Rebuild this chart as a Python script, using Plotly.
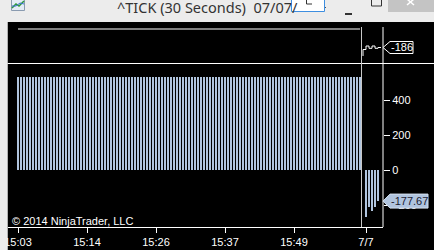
import plotly.graph_objects as go

# ---------------- data ----------------
# bar slots (30-second bars, index along the time axis)
main_slots = list(range(0, 115))
main_values = [
    531, 531, 531, 531, 531, 531, 531, 531, 531, 531, 531, 531, 531, 531, 531, 531, 531, 531, 531, 531, 531, 531, 531,
    531, 531, 531, 531, 531, 531, 531, 531, 531, 531, 531, 531, 531, 531, 531, 531, 531, 531, 531, 531, 531, 531, 531,
    531, 531, 531, 531, 531, 531, 531, 531, 531, 531, 531, 531, 531, 531, 531, 531, 531, 531, 531, 531, 531, 531, 531,
    531, 531, 531, 531, 531, 531, 531, 531, 531, 531, 531, 531, 531, 531, 531, 531, 531, 531, 531, 531, 531, 531, 531,
    531, 531, 531, 531, 531, 531, 531, 531, 531, 531, 531, 531, 531, 531, 531, 531, 531, 531, 531, 531, 531, 531, 531,
]
new_slots = [116, 117, 118, 119, 120]
new_values = [-268, -210, -235, -212, -177.67]

# upper panel (price line)
price_flat_values = main_values
step_slots = [115, 116, 117, 118, 119, 120, 121]
step_values = [-515, -264, -128, -217, -128, -217, -186]

tick_slots = [0, 23, 46, 69, 92, 116]
tick_labels = ["15:03", "15:14", "15:26", "15:37", "15:49", "7/7"]
y_ticks = [400, 200, 0, -200]

last_price_label = "-186"
last_bar_label = "-177.67"
title_text = "^TICK (30 Seconds)  07/07/"
copyright_text = "© 2014 NinjaTrader, LLC"

# ---------------- geometry helpers ----------------
W, H = 434, 250


def px(x):
    return x / W


def py(y):
    return 1 - y / H


# x axis: slot i centred at pixel 18 + 3*i
x_left_px, x_right_px = 8, 383
x_range = [(x_left_px - 18) / 3, (x_right_px - 18) / 3]

# lower panel: 0 at pixel 170, 0.175 px per unit
lo_top_px, lo_bot_px = 63, 227
lo_zero_px, lo_scale = 170, 0.175
y_range = [-(lo_bot_px - lo_zero_px) / lo_scale, (lo_zero_px - lo_top_px) / lo_scale]

# upper panel
up_top_px, up_bot_px = 22, 63
up_ref_px, up_ref_val, up_scale = 29, 531, 18.5 / 717
y2_range = [up_ref_val - (up_bot_px - up_ref_px) / up_scale,
            up_ref_val + (up_ref_px - up_top_px) / up_scale]


def lo_px(v):
    return lo_zero_px - v * lo_scale


def up_px(v):
    return up_ref_px + (up_ref_val - v) * up_scale


BAR = "#B0C4DE"
BAR_W = 2.0002 / 3  # 2 px bars, edges rounded to whole pixels by plotly
fig = go.Figure()

fig.add_trace(go.Bar(x=main_slots, y=main_values, width=BAR_W,
                     marker=dict(color=BAR, line=dict(width=0)), xaxis="x", yaxis="y"))
fig.add_trace(go.Bar(x=new_slots, y=new_values, width=BAR_W,
                     marker=dict(color=BAR, line=dict(width=0)), xaxis="x", yaxis="y"))
fig.add_trace(go.Scatter(x=main_slots, y=price_flat_values, mode="lines",
                         line=dict(color="white", width=1), xaxis="x", yaxis="y2"))
fig.add_trace(go.Scatter(x=step_slots, y=step_values, mode="lines",
                         line=dict(color="white", width=1, shape="vh"), xaxis="x", yaxis="y2"))

shapes = []
# chart background
shapes.append(dict(type="rect", xref="paper", yref="paper", x0=px(7.5), x1=1, y0=0, y1=py(22),
                   fillcolor="black", line=dict(width=0), layer="below"))
# panel separator
shapes.append(dict(type="line", xref="paper", yref="paper", x0=px(7.5), x1=1, y0=py(63.5), y1=py(63.5),
                   line=dict(color="white", width=1)))
# current bar separator
shapes.append(dict(type="line", xref="paper", yref="paper", x0=px(361.5), x1=px(361.5), y0=py(27), y1=py(227),
                   line=dict(color="#c8c8c8", width=1)))
# price axis line
shapes.append(dict(type="line", xref="paper", yref="paper", x0=px(383), x1=px(383), y0=py(27), y1=py(227),
                   line=dict(color="white", width=1)))
# left window border covering clipped text
shapes.append(dict(type="rect", xref="paper", yref="paper", x0=0, x1=px(7.5), y0=0, y1=py(22),
                   fillcolor="#ececec", line=dict(width=0), layer="above"))

# -186 flag (upper panel)
fy = up_px(step_values[-1])
shapes.append(dict(type="path", xref="paper", yref="paper",
                   path=f"M {px(383)},{py(fy)} L {px(390)},{py(fy-6)} L {px(413)},{py(fy-6)} "
                        f"L {px(413)},{py(fy+6)} L {px(390)},{py(fy+6)} Z",
                   fillcolor="black", line=dict(color="white", width=1), layer="above"))
# -177.67 flag (lower panel)
gy = lo_px(new_values[-1])
shapes.append(dict(type="path", xref="paper", yref="paper",
                   path=f"M {px(383)},{py(gy)} L {px(390)},{py(gy-7)} L {px(428)},{py(gy-7)} "
                        f"L {px(428)},{py(gy+7)} L {px(390)},{py(gy+7)} Z",
                   fillcolor=BAR, line=dict(color="#d4e0ee", width=1), layer="above"))

# ---- title bar decorations ----
shapes.append(dict(type="rect", xref="paper", yref="paper", x0=0, x1=1, y0=py(22), y1=1,
                   fillcolor="#ececec", line=dict(width=0), layer="below"))
# app icon
shapes.append(dict(type="rect", xref="paper", yref="paper", x0=px(11.5), x1=px(24.5), y0=py(10.5), y1=py(-2),
                   fillcolor="#e4ecf6", line=dict(color="#8a9bb0", width=1)))
shapes.append(dict(type="path", xref="paper", yref="paper",
                   path=f"M {px(12)},{py(8)} L {px(16)},{py(4)} L {px(19)},{py(6)} L {px(24)},{py(1)}",
                   line=dict(color="#2e9a3a", width=1.5)))
shapes.append(dict(type="path", xref="paper", yref="paper",
                   path=f"M {px(12)},{py(6)} L {px(16)},{py(6)} L {px(20)},{py(3)} L {px(24)},{py(4)}",
                   line=dict(color="#3a6fd0", width=1)))
# tooltip box
shapes.append(dict(type="rect", xref="paper", yref="paper", x0=px(291.5), x1=px(324.5), y0=py(11.5), y1=py(-2),
                   fillcolor="white", line=dict(color="#3d8ee0", width=1), layer="above"))
shapes.append(dict(type="path", xref="paper", yref="paper",
                   path=f"M {px(306.5)},{py(0)} L {px(306.5)},{py(4)} L {px(312)},{py(4)}",
                   line=dict(color="#333333", width=1), layer="above"))
shapes.append(dict(type="rect", xref="paper", yref="paper", x0=px(325), x1=px(326), y0=py(8), y1=py(7),
                   fillcolor="#555555", line=dict(width=0), layer="above"))
# minimise / maximise / close
shapes.append(dict(type="line", xref="paper", yref="paper", x0=px(345), x1=px(352), y0=py(14), y1=py(14),
                   line=dict(color="#333333", width=2)))
shapes.append(dict(type="rect", xref="paper", yref="paper", x0=px(371.5), x1=px(381.5), y0=py(6), y1=py(-3),
                   line=dict(color="#333333", width=1)))
shapes.append(dict(type="rect", xref="paper", yref="paper", x0=px(388), x1=1, y0=py(12), y1=1,
                   fillcolor="#c4c4c4", line=dict(width=0)))
shapes.append(dict(type="line", xref="paper", yref="paper", x0=px(407), x1=px(414), y0=py(-1), y1=py(5),
                   line=dict(color="white", width=1.5)))
shapes.append(dict(type="line", xref="paper", yref="paper", x0=px(407), x1=px(414), y0=py(5), y1=py(-1),
                   line=dict(color="white", width=1.5)))

annotations = [
    dict(text=title_text, x=px(115), y=py(6.5), xref="paper", yref="paper", xanchor="left", yanchor="middle",
         showarrow=False, font=dict(family="Noto Sans", size=14.5, color="#333333")),
    dict(text=copyright_text, x=px(10), y=py(221), xref="paper", yref="paper", xanchor="left", yanchor="middle",
         showarrow=False, font=dict(family="Liberation Sans", size=11, color="white")),
    dict(text=last_price_label, x=px(402), y=py(fy), xref="paper", yref="paper", xanchor="center",
         yanchor="middle", showarrow=False, font=dict(family="Liberation Sans", size=11, color="white")),
    dict(text=last_bar_label, x=px(409), y=py(gy), xref="paper", yref="paper", xanchor="center",
         yanchor="middle", showarrow=False, font=dict(family="Liberation Sans", size=11, color="#1a1a30")),
]

fig.update_layout(
    width=W, height=H, autosize=False, margin=dict(l=0, r=0, t=0, b=0, pad=0, autoexpand=False),
    paper_bgcolor="#ececec", plot_bgcolor="black",
    showlegend=False, barmode="overlay", bargap=0, bargroupgap=0,
    xaxis=dict(domain=[px(x_left_px), px(x_right_px)], range=x_range, anchor="y", automargin=False,
               tickmode="array", tickvals=tick_slots, ticktext=tick_labels,
               ticks="outside", ticklen=5, tickcolor="white", tickwidth=1,
               tickfont=dict(family="Liberation Sans", size=11, color="white"),
               showline=True, linecolor="white", linewidth=1, showgrid=False, zeroline=False,
               fixedrange=True),
    yaxis=dict(domain=[py(lo_bot_px), py(lo_top_px)], range=y_range, anchor="x", side="right",
               automargin=False,
               tickmode="array", tickvals=y_ticks, ticks="outside", ticklen=6, tickcolor="white",
               tickfont=dict(family="Liberation Sans", size=11, color="white"),
               showline=False, showgrid=False, zeroline=False, fixedrange=True),
    yaxis2=dict(domain=[py(up_bot_px), py(up_top_px)], range=y2_range, anchor="x", automargin=False,
                showticklabels=False, ticks="", showline=False, showgrid=False, zeroline=False,
                fixedrange=True),
    shapes=shapes, annotations=annotations,
)

fig.write_html(
    "out.html",
    config={"displayModeBar": False, "responsive": False},
    post_script="document.body.style.margin='0px';document.body.style.overflow='hidden';",
)
